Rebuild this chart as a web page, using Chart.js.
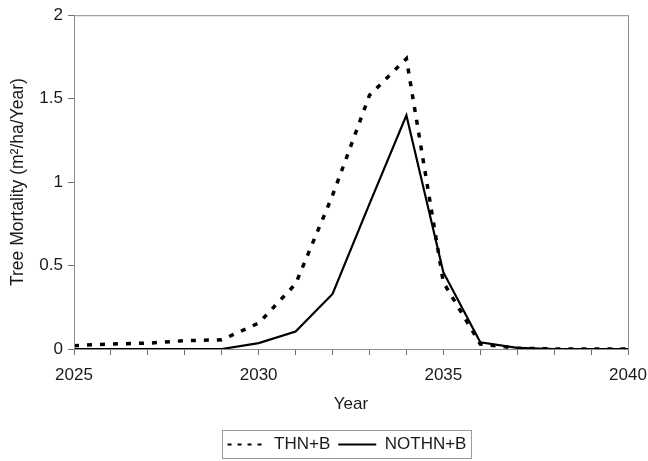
<!DOCTYPE html>
<html>
<head>
<meta charset="utf-8">
<script src="https://cdn.jsdelivr.net/npm/chart.js@4"></script>
<style>
  html, body { margin: 0; padding: 0; background: #ffffff; }
  #wrap { width: 648px; height: 461px; }
</style>
</head>
<body>
<div id="wrap"><canvas id="myChart" width="648" height="461"></canvas></div>
<script>
// values
var years = [2025, 2026, 2027, 2028, 2029, 2030, 2031, 2032, 2033, 2034, 2035, 2036, 2037, 2038, 2039, 2040];
var thn_b = [0.02, 0.03, 0.035, 0.05, 0.055, 0.155, 0.39, 0.92, 1.52, 1.74, 0.40, 0.03, 0.005, 0, 0, 0];
var nothn_b = [0, 0, 0, 0, 0, 0.035, 0.105, 0.33, 0.87, 1.40, 0.46, 0.04, 0.007, 0, 0, 0];
var yTicks = [0, 0.5, 1, 1.5, 2];

var axisGray = '#8c8c8c';
var textColor = '#1a1a1a';
var fontFam = "'Liberation Sans', Arial, sans-serif";

function toPoints(vals) {
    var pts = [];
    for (var i = 0; i < years.length; i++) {
        pts.push({ x: years[i], y: vals[i] });
    }
    return pts;
}

// grey frame round the plot area and round the legend
var framePlugin = {
    id: 'frame',
    afterLayout: function(chart) {
        // legend sits roughly centred under the plot area, a bit lower
        var lg = chart.legend;
        var a = chart.chartArea;
        var dx = (a.left + a.right) / 2 - (lg.left + lg.right) / 2 - 4;
        lg.left += dx;
        lg.right += dx;
        lg.top += 2;
        lg.bottom += 2;
    },
    afterDraw: function(chart) {
        var ctx = chart.ctx;
        var a = chart.chartArea;
        ctx.save();
        ctx.strokeStyle = axisGray;
        ctx.lineWidth = 1;
        ctx.strokeRect(a.left + 0.5, a.top + 0.5, a.right - a.left, a.bottom - a.top);

        var boxes = chart.legend.legendHitBoxes;
        if (boxes && boxes.length) {
            var l = Infinity, r = -Infinity, t = Infinity, b = -Infinity;
            boxes.forEach(function(h) {
                l = Math.min(l, h.left); r = Math.max(r, h.left + h.width);
                t = Math.min(t, h.top); b = Math.max(b, h.top + h.height);
            });
            ctx.strokeStyle = '#9a9a9a';
            ctx.strokeRect(Math.round(l - 6) + 0.5, Math.round(t - 6) + 0.5, Math.round(r - l + 10), Math.round(b - t + 11));
        }
        ctx.restore();
    }
};

var ctx = document.getElementById('myChart').getContext('2d');
var chart = new Chart(ctx, {
    type: 'line',
    data: {
        datasets: [{
            label: 'THN+B',
            data: toPoints(thn_b),
            borderColor: '#000000',
            backgroundColor: '#000000',
            borderWidth: 3.5,
            borderDash: [5, 8],
            pointRadius: 0,
            tension: 0
        }, {
            label: 'NOTHN+B',
            data: toPoints(nothn_b),
            borderColor: '#000000',
            backgroundColor: '#000000',
            borderWidth: 2.2,
            pointRadius: 0,
            tension: 0
        }]
    },
    options: {
        responsive: false,
        animation: false,
        layout: { padding: { left: 0, right: 20, top: 11, bottom: 0 } },
        plugins: {
            tooltip: { enabled: false },
            legend: {
                position: 'bottom',
                labels: {
                    usePointStyle: true,
                    pointStyle: 'line',
                    pointStyleWidth: 38,
                    padding: 8,
                    color: textColor,
                    font: { family: fontFam, size: 17 },
                    generateLabels: function(chart) {
                        var items = Chart.defaults.plugins.legend.labels.generateLabels(chart);
                        items.forEach(function(it) {
                            var ds = chart.data.datasets[it.datasetIndex];
                            it.lineDash = ds.borderDash ? [4, 6] : [];
                            it.lineWidth = 2;
                        });
                        return items;
                    }
                }
            }
        },
        scales: {
            x: {
                type: 'linear',
                min: 2025,
                max: 2040,
                afterBuildTicks: function(scale) {
                    scale.ticks = years.map(function(v) { return { value: v }; });
                },
                afterFit: function(scale) {
                    scale.height = 77;
                    scale.paddingRight = 0;
                },
                ticks: {
                    autoSkip: false,
                    maxRotation: 0,
                    padding: 10,
                    color: textColor,
                    font: { family: fontFam, size: 17 },
                    callback: function(v) { return v % 5 === 0 ? String(v) : ''; }
                },
                grid: { drawOnChartArea: false, drawTicks: true, tickLength: 6, color: axisGray, tickColor: '#707070', tickWidth: 1 },
                border: { color: axisGray },
                title: {
                    display: true,
                    text: 'Year',
                    color: textColor,
                    font: { family: fontFam, size: 17 },
                    padding: { top: 6, bottom: 11 }
                }
            },
            y: {
                min: 0,
                max: 2,
                afterBuildTicks: function(scale) {
                    scale.ticks = yTicks.map(function(v) { return { value: v }; });
                },
                afterFit: function(scale) { scale.width = 74; },
                ticks: {
                    padding: 5,
                    color: textColor,
                    font: { family: fontFam, size: 17 },
                    callback: function(v) { return String(v); }
                },
                grid: { drawOnChartArea: false, drawTicks: true, tickLength: 6, color: axisGray, tickColor: '#707070', tickWidth: 1 },
                border: { color: axisGray },
                title: {
                    display: true,
                    text: 'Tree Mortality (m\u00b2/ha/Year)',
                    color: textColor,
                    font: { family: fontFam, size: 17.5 },
                    padding: { top: 8, bottom: 0 }
                }
            }
        }
    },
    plugins: [framePlugin]
});
</script>
</body>
</html>
